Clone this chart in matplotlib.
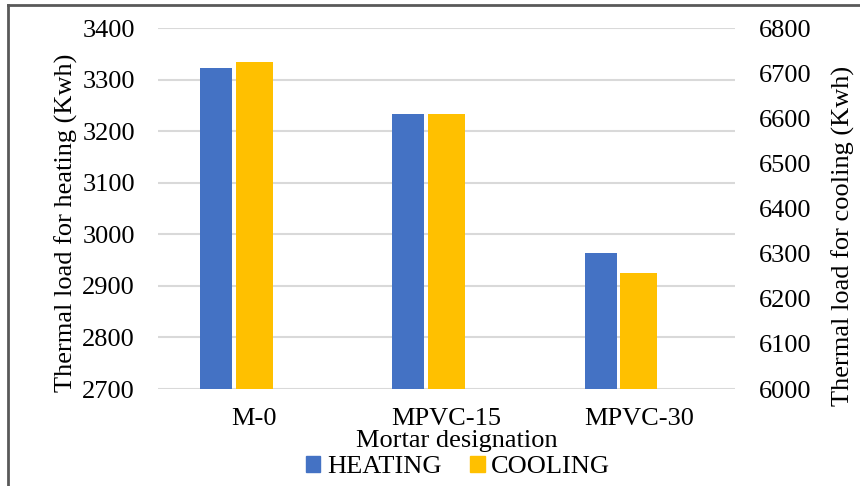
import numpy as np
import matplotlib
matplotlib.use('Agg')
import matplotlib.pyplot as plt
from matplotlib.patches import Rectangle
from matplotlib.lines import Line2D

plt.rc('font', family='Liberation Serif')

categories = ['M-0', 'MPVC-15', 'MPVC-30']
heating = [3322, 3233, 2964]
cooling = [6725, 6609, 6257]

fig = plt.figure(figsize=(8.6, 4.86), dpi=100)
ax = fig.add_axes([158/860, 1-389/486, (735-158)/860, (389-28)/486])
ax2 = ax.twinx()

x = np.arange(len(categories))
ax.bar(x - 0.198, heating, width=0.166, color='#4472C4', zorder=3, label='HEATING')
ax2.bar(x + 0.0, cooling, width=0.192, color='#FFC000', zorder=3, label='COOLING')

ax.set_xlim(-0.5, 2.5)
ax.set_ylim(2700, 3400)
ax2.set_ylim(6000, 6800)
ax.set_yticks(np.arange(2700, 3401, 100))
ax2.set_yticks(np.arange(6000, 6801, 100))
ax.yaxis.grid(True, color='#D9D9D9', linewidth=1.5, zorder=0)
ax.set_axisbelow(True)

ax.set_xticks(x)
ax.set_xticklabels(categories)
for a in (ax, ax2):
    for s in a.spines.values():
        s.set_visible(False)
    a.tick_params(length=0, labelsize=19, colors='black')
ax.tick_params(axis='x', pad=14)
ax.tick_params(axis='y', pad=16.5)
ax2.tick_params(axis='y', pad=17)

# axis titles placed as in the original layout
fig.text(66/860, 1-223/486, 'Thermal load for heating (Kwh)', rotation=90,
         ha='center', va='center', fontsize=19)
fig.text(843/860, 1-236/486, 'Thermal load for cooling (Kwh)', rotation=90,
         ha='center', va='center', fontsize=19)
fig.text(457/860, 1-441/486, 'Mortar designation', ha='center', va='center', fontsize=19)

handles = [Rectangle((0, 0), 1, 1, color='#4472C4'), Rectangle((0, 0), 1, 1, color='#FFC000')]
fig.legend(handles, ['HEATING', 'COOLING'], loc='center', bbox_to_anchor=(458/860, 1-467/486),
           ncol=2, frameon=False, fontsize=19, handlelength=0.55, handleheight=0.55,
           handletextpad=0.25, columnspacing=1.1, borderpad=0)

# outer frame (left and top edges visible in the crop)
fig.add_artist(Line2D([8/860, 8/860], [0, 1-5/486], color='#595959', linewidth=2))
fig.add_artist(Line2D([8/860, 1], [1-5/486, 1-5/486], color='#595959', linewidth=2))

fig.savefig('out.png', dpi=100)
